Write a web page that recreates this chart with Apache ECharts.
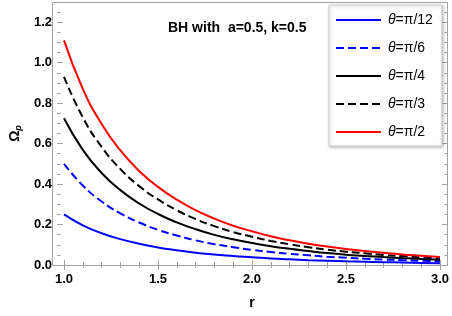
<!DOCTYPE html>
<html>
<head>
<meta charset="utf-8">
<script src="https://cdn.jsdelivr.net/npm/echarts@6/dist/echarts.min.js"></script>
<style>html,body{margin:0;padding:0;background:#fff}#c{width:452px;height:316px}</style>
</head>
<body>
<div id="c"></div>
<script>
const rValues = [1.0,1.1,1.2,1.3,1.4,1.5,1.6,1.7,1.8,1.9,2.0,2.1,2.2,2.3,2.4,2.5,2.6,2.7,2.8,2.9,3.0];
const thetaPi12 = [0.25,0.196,0.157,0.128,0.105,0.087,0.073,0.061,0.052,0.044,0.038,0.032,0.028,0.024,0.021,0.018,0.016,0.014,0.012,0.010,0.009];
const thetaPi6  = [0.50,0.393,0.314,0.255,0.210,0.174,0.146,0.122,0.103,0.088,0.075,0.064,0.055,0.048,0.041,0.036,0.031,0.027,0.024,0.021,0.018];
const thetaPi4  = [0.725,0.569,0.455,0.370,0.304,0.252,0.211,0.177,0.149,0.127,0.109,0.093,0.080,0.069,0.059,0.051,0.045,0.039,0.034,0.030,0.026];
const thetaPi3  = [0.93,0.730,0.584,0.474,0.390,0.324,0.271,0.227,0.192,0.163,0.140,0.119,0.102,0.088,0.076,0.066,0.058,0.050,0.044,0.038,0.033];
const thetaPi2  = [1.11,0.871,0.697,0.566,0.465,0.386,0.323,0.271,0.229,0.194,0.167,0.142,0.122,0.105,0.091,0.079,0.069,0.060,0.052,0.046,0.040];
const seriesNames = ['θ=π/12','θ=π/6','θ=π/4','θ=π/3','θ=π/2'];
const xTicks = [1.0,1.5,2.0,2.5,3.0];
const yTicks = [0.0,0.2,0.4,0.6,0.8,1.0,1.2];

const FONT = '"Liberation Sans", Arial, sans-serif';
const frameColor = '#a0a0a0';
const pairs = arr => rValues.map((r,i)=>[r,arr[i]]);

const styles = [
  {color:'#0000ff', type:'solid'},
  {color:'#0000ff', type:[8,4]},
  {color:'#000000', type:'solid'},
  {color:'#000000', type:[8,4]},
  {color:'#ff0000', type:'solid'}
];
const dataSets = [thetaPi12, thetaPi6, thetaPi4, thetaPi3, thetaPi2];

const chart = echarts.init(document.getElementById('c'), null, {renderer:'canvas'});

const tickCommon = {inside:true, lineStyle:{color:frameColor, width:1}};

chart.setOption({
  animation:false,
  backgroundColor:'#fff',
  textStyle:{fontFamily:FONT},
  title:{
    text:'BH with  a=0.5, k=0.5',
    left:163, top:16,
    textStyle:{fontFamily:FONT, fontSize:14, fontWeight:'bold', color:'#000'}
  },
  grid:{left:59.5, right:11.5, top:2, bottom:51, containLabel:false},
  graphic:[{
    type:'rect', shape:{x:52.5, y:2.5, width:395, height:263},
    style:{fill:'none', stroke:frameColor, lineWidth:1}, z:0, silent:true
  }],
  legend:{
    orient:'vertical', left:329, top:5,
    backgroundColor:'#fff', borderColor:'#cfcfcf', borderWidth:1,
    shadowBlur:3, shadowColor:'rgba(0,0,0,0.25)', shadowOffsetX:1, shadowOffsetY:1,
    padding:[8,9,7,6],
    itemWidth:45, itemHeight:14, itemGap:14,
    itemStyle:{opacity:0, borderWidth:0},
    data:seriesNames,
    formatter: n => '{i|θ}{n|' + n.slice(1) + '}',
    textStyle:{
      fontFamily:FONT, fontSize:14, color:'#000', padding:[0,0,0,2],
      rich:{
        i:{fontFamily:FONT, fontSize:14, fontStyle:'italic', color:'#000'},
        n:{fontFamily:FONT, fontSize:14, color:'#000'}
      }
    }
  },
  xAxis:[{
    type:'value', min:1, max:3, interval:0.5, position:'bottom',
    axisLine:{show:false},
    axisTick:Object.assign({length:5}, tickCommon),
    minorTick:{show:true, splitNumber:5, length:3, lineStyle:{color:frameColor}},
    splitLine:{show:false},
    axisLabel:{margin:8, fontFamily:FONT, fontSize:13, fontWeight:'bold', color:'#000',
      formatter: v => xTicks.some(t=>Math.abs(t-v)<1e-9) ? v.toFixed(1) : ''},
    name:'r', nameLocation:'middle', nameGap:31,
    nameTextStyle:{fontFamily:FONT, fontSize:14, fontWeight:'bold', color:'#000'}
  },{
    type:'value', min:1, max:3, interval:0.5, position:'top',
    axisLine:{show:false},
    axisTick:Object.assign({length:5}, tickCommon),
    minorTick:{show:true, splitNumber:5, length:3, lineStyle:{color:frameColor}},
    splitLine:{show:false}, axisLabel:{show:false}
  }],
  yAxis:[{
    type:'value', min:0, max:1.3, interval:0.2, position:'left', offset:7,
    axisLine:{show:false},
    axisTick:Object.assign({length:6}, tickCommon),
    minorTick:{show:true, splitNumber:4, length:3.5, lineStyle:{color:frameColor}},
    splitLine:{show:false},
    axisLabel:{margin:5, showMaxLabel:false, fontFamily:FONT, fontSize:13, fontWeight:'bold', color:'#000',
      formatter: v => yTicks.some(t=>Math.abs(t-v)<1e-9) ? v.toFixed(1) : ''},
    name:'{a|Ω}{b|p}', nameLocation:'middle', nameGap:34,
    nameTextStyle:{
      rich:{
        a:{fontFamily:FONT, fontSize:14, fontWeight:'bold', color:'#000'},
        b:{fontFamily:FONT, fontSize:9, fontWeight:'bold', fontStyle:'italic', color:'#000', padding:[7,0,0,0]}
      }
    }
  },{
    type:'value', min:0, max:1.3, interval:0.2, position:'right', offset:8,
    axisLine:{show:false},
    axisTick:Object.assign({length:6}, tickCommon),
    minorTick:{show:true, splitNumber:4, length:3.5, lineStyle:{color:frameColor}},
    splitLine:{show:false}, axisLabel:{show:false}
  }],
  series: dataSets.map((d,i)=>({
    type:'line', name:seriesNames[i], data:pairs(d), smooth:0.5,
    symbol:'none', showSymbol:false,
    lineStyle:{color:styles[i].color, type:styles[i].type, width:2},
    itemStyle:{color:styles[i].color},
    z:3
  }))
});
</script>
</body>
</html>
